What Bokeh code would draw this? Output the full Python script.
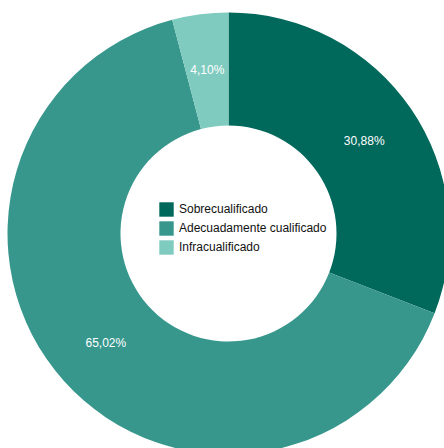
import math
from bokeh.plotting import figure
from bokeh.models import Range1d, ColumnDataSource, Legend, LegendItem
from bokeh.core.properties import value
from bokeh.embed import file_html
from bokeh.resources import INLINE

categories = ["Sobrecualificado", "Adecuadamente cualificado", "Infracualificado"]
values = [30.88, 65.02, 4.10]
labels = ["30,88%", "65,02%", "4,10%"]
colors = ["#01685C", "#37978D", "#7FCBBF"]

W, H = 444, 448
cx, cy = 228, 215
r_in, r_out = 108, 221

total = sum(values)
starts, ends, lx, ly = [], [], [], []
cum = 0.0
for v in values:
    a0 = math.pi / 2 - 2 * math.pi * cum / total
    cum += v
    a1 = math.pi / 2 - 2 * math.pi * cum / total
    starts.append(a0)
    ends.append(a1)
    mid = (a0 + a1) / 2
    rm = (r_in + r_out) / 2
    lx.append(cx + rm * math.cos(mid))
    ly.append(cy + rm * math.sin(mid))

src = ColumnDataSource(dict(start=starts, end=ends, color=colors, cat=categories,
                            lx=lx, ly=ly, label=labels))

p = figure(width=W, height=H, output_backend="svg", toolbar_location=None,
           x_range=Range1d(0, W), y_range=Range1d(0, H), min_border=0)
p.axis.visible = False
p.grid.visible = False
p.outline_line_color = None
p.background_fill_color = "white"

r = p.annular_wedge(x=cx, y=cy, inner_radius=r_in, outer_radius=r_out,
                    start_angle="start", end_angle="end", direction="clock",
                    fill_color="color", line_color=None, source=src,
                    inner_radius_units="screen", outer_radius_units="screen")

p.text(x="lx", y="ly", text="label", source=src, text_color="white",
       text_font=value("Liberation Sans"), text_font_size="12px",
       text_align="center", text_baseline="middle")

items = [LegendItem(label=c, renderers=[r], index=i) for i, c in enumerate(categories)]
legend = Legend(items=items, location=(157, 192), orientation="vertical",
                glyph_width=18, glyph_height=18, label_height=18, spacing=1,
                label_standoff=4, padding=0, margin=0,
                label_text_font="Liberation Sans", label_text_font_size="12px",
                label_text_color="#111111",
                border_line_color=None, background_fill_alpha=0)
p.add_layout(legend, "center")

open("out.html", "w").write(file_html(p, INLINE))
